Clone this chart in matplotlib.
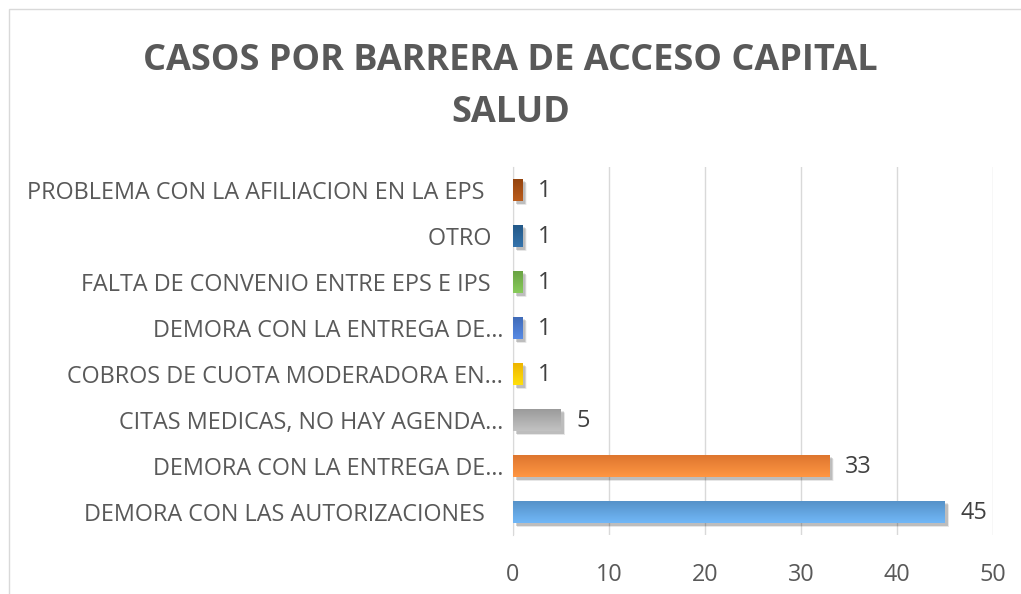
import numpy as np
import matplotlib
matplotlib.use('Agg')
import matplotlib.pyplot as plt
from matplotlib.colors import to_rgb
from matplotlib.patches import Rectangle
import matplotlib.transforms as mtransforms

# datos del grafico (de abajo hacia arriba)
categorias = ['DEMORA CON LAS AUTORIZACIONES   ',
              'DEMORA CON LA ENTREGA DE…',
              'CITAS MEDICAS, NO HAY AGENDA…',
              'COBROS DE CUOTA MODERADORA EN…',
              'DEMORA CON LA ENTREGA DE…',
              'FALTA DE CONVENIO ENTRE EPS E IPS  ',
              'OTRO  ',
              'PROBLEMA CON LA AFILIACION EN LA EPS   ']
casos = [45, 33, 5, 1, 1, 1, 1, 1]
colores = ['#5B9BD5', '#ED7D31', '#A5A5A5', '#FFC000',
           '#4472C4', '#70AD47', '#255E91', '#9E480E']
ticks_x = [0, 10, 20, 30, 40, 50]

titulo = 'CASOS POR BARRERA DE ACCESO CAPITAL\nSALUD'

plt.rcParams['font.family'] = ['Open Sans', 'DejaVu Sans']

fig = plt.figure(figsize=(10.21, 5.94), dpi=100)
# borde del area del grafico
fig.patches.append(Rectangle((9/1021, -0.1), 1.1, 1 - 9/594 + 0.1,
                             transform=fig.transFigure, fill=False,
                             edgecolor='#D9D9D9', linewidth=1))

ax = fig.add_axes([513/1021, 1 - 535/594, 480/1021, 368/594])
y = np.arange(len(categorias))

# sombra suave de las barras
for i, v in enumerate(casos):
    for k, a in zip([4, 3, 2, 1], [0.04, 0.06, 0.08, 0.10]):
        off = mtransforms.offset_copy(ax.transData, fig=fig, x=2 + k * 0.5, y=-2 - k * 0.5, units='dots')
        ax.add_patch(Rectangle((0, i - 0.24), v, 0.48, transform=off,
                               facecolor='black', alpha=a, edgecolor='none', zorder=2))

barras = ax.barh(y, casos, height=0.48, color=colores, zorder=3)

# degradado claro arriba, oscuro abajo
for b, c in zip(barras, colores):
    r, g, bb = to_rgb(c)
    top = np.array([min(1, r * 1.1 + 0.05), min(1, g * 1.1 + 0.05), min(1, bb * 1.1 + 0.05)])
    bot = np.array([r * 0.93, g * 0.93, bb * 0.93])
    t = np.linspace(0, 1, 50)[:, None]
    grad = (top[None, :] * (1 - t) + bot[None, :] * t)[:, None, :]
    x0, y0 = b.get_x(), b.get_y()
    w, h = b.get_width(), b.get_height()
    im = ax.imshow(grad, extent=(x0, x0 + w, y0 + h, y0), aspect='auto',
                   interpolation='bilinear', zorder=4)
    im.set_clip_path(b)

for i, v in enumerate(casos):
    ax.annotate(str(v), (v, i), xytext=(11, -1), textcoords='offset points',
                va='center', ha='left', fontsize=16.8, color='#404040')

ax.set_xlim(0, 50)
ax.set_ylim(-0.5, len(categorias) - 0.5)
ax.set_xticks(ticks_x)
ax.set_yticks(y)
ax.set_yticklabels(categorias)
ax.tick_params(axis='both', length=0, labelsize=16.8, labelcolor='#595959')
ax.tick_params(axis='x', pad=20)
ax.tick_params(axis='y', pad=7)
ax.grid(axis='x', color='#D9D9D9', linewidth=1, zorder=0)
ax.set_axisbelow(True)
for s in ['top', 'right', 'bottom']:
    ax.spines[s].set_visible(False)
ax.spines['left'].set_color('#D9D9D9')
ax.spines['left'].set_zorder(1)

fig.text(0.5, 1 - 87/594, titulo, ha='center', va='center', fontsize=26,
         fontweight='bold', color='#595959', linespacing=1.6)

fig.savefig('out.png', dpi=100)
